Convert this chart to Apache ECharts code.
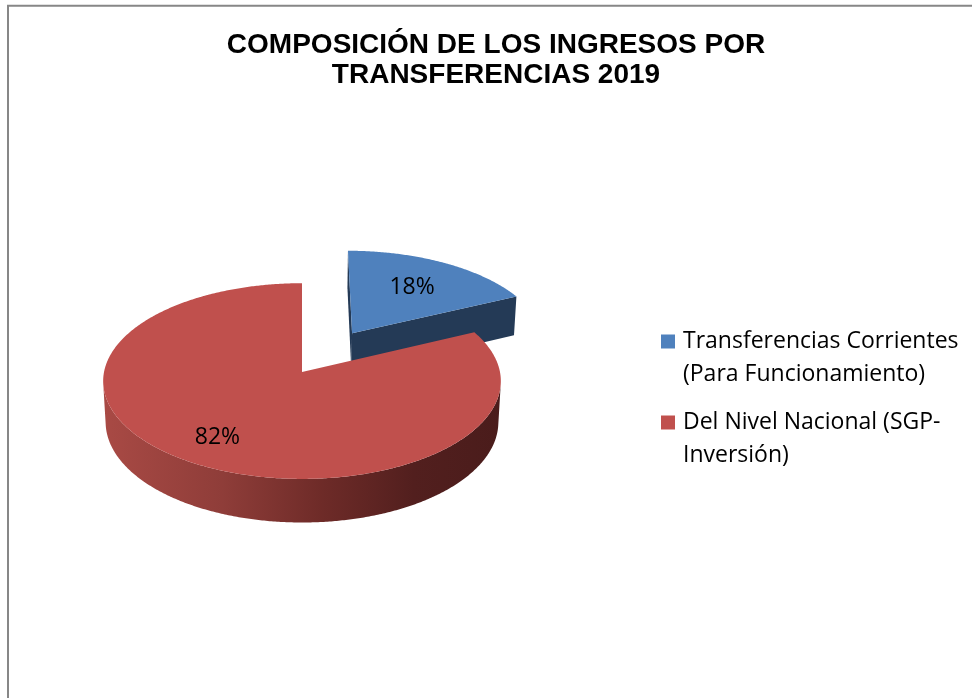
<!DOCTYPE html>
<html><head><meta charset="utf-8">
<script src="https://cdn.jsdelivr.net/npm/echarts@6/dist/echarts.min.js"></script>
<style>html,body{margin:0;padding:0;background:#fff}#c{width:972px;height:698px}</style>
</head><body><div id="c"></div>
<script>
// ---- data ----
const titleText = 'COMPOSICIÓN DE LOS INGRESOS POR\nTRANSFERENCIAS 2019';
const categories = ['Transferencias Corrientes\n(Para Funcionamiento)', 'Del Nivel Nacional (SGP-\nInversión)'];
const values = [18, 82];
// ---- style ----
const topColors = ['#4f81bd', '#c0504d'];
const sideColors = ['#243a56', null];
const explode = [0.49, 0];
const labelRadius = [0.64, 0.75];
const total = values.reduce((a, b) => a + b, 0);
const V = { cx: 302, cy: 372, F: 1861, D: 9.4, sa: 0.49, depth: 0.24 };
V.ca = Math.sqrt(1 - V.sa * V.sa);
const cam = [0, -V.D * V.ca, V.D * V.sa]; // X, Zb, h

function proj(X, Z, h) {
  const v = Z * V.sa + h * V.ca;
  const w = V.D + Z * V.ca - h * V.sa;
  return [V.cx + V.F * X / w, V.cy - V.F * v / w];
}
const rad = d => d * Math.PI / 180;

function makeRender(idx) {
  return function (params, api) {
    const val = api.value(0);
    let before = 0;
    for (let i = 0; i < idx; i++) before += values[i];
    const t0 = before / total * 360, t1 = (before + val) / total * 360;
    const tm = (t0 + t1) / 2;
    const ox = explode[idx] * Math.sin(rad(tm)), oz = explode[idx] * Math.cos(rad(tm));
    const H = -V.depth;
    const rim = (t, h) => proj(ox + Math.sin(rad(t)), oz + Math.cos(rad(t)), h);
    const steps = Math.max(2, Math.ceil((t1 - t0) / 0.5));
    const angs = [];
    for (let s = 0; s <= steps; s++) angs.push(t0 + (t1 - t0) * s / steps);
    const children = [];
    const sideFill = sideColors[idx] || new echarts.graphic.LinearGradient(
      V.cx - 200, 0, V.cx + 200, 0, [
        { offset: 0, color: '#a94a45' }, { offset: 0.3, color: '#8f3d39' },
        { offset: 0.55, color: '#6e2b28' }, { offset: 0.78, color: '#521f1e' },
        { offset: 1, color: '#4a1c1b' }], true);
    // radial faces
    const radial = (t, sign) => {
      const nx = sign * Math.cos(rad(t)), nz = -sign * Math.sin(rad(t));
      const dot = nx * (cam[0] - ox) + nz * (cam[1] - oz);
      if (dot > 1e-6) {
        children.push({ type: 'polygon', shape: { points: [proj(ox, oz, 0), rim(t, 0), rim(t, H), proj(ox, oz, H)] },
          style: { fill: sideFill } });
      }
    };
    radial(t0, -1);
    radial(t1, 1);
    // outer wall
    const vis = [];
    for (let s = 0; s < angs.length - 1; s++) {
      const m = (angs[s] + angs[s + 1]) / 2;
      const nx = Math.sin(rad(m)), nz = Math.cos(rad(m));
      const dot = nx * (cam[0] - ox - nx) + nz * (cam[1] - oz - nz);
      if (dot > 0) { if (!vis.length || vis[vis.length - 1] !== angs[s]) vis.push(angs[s]); vis.push(angs[s + 1]); }
    }
    if (vis.length > 1) {
      const pts = vis.map(t => rim(t, 0)).concat(vis.slice().reverse().map(t => rim(t, H)));
      children.push({ type: 'polygon', shape: { points: pts }, style: { fill: sideFill } });
    }
    // top face
    const topPts = [proj(ox, oz, 0)].concat(angs.map(t => rim(t, 0)));
    children.push({ type: 'polygon', shape: { points: topPts }, style: { fill: topColors[idx] } });
    // label
    const lr = labelRadius[idx];
    const lp = proj(ox + lr * Math.sin(rad(tm)), oz + lr * Math.cos(rad(tm)), 0);
    children.push({ type: 'text', x: lp[0], y: lp[1], style: {
      text: Math.round(val / total * 100) + '%', fill: '#000', fontSize: 23, fontFamily: 'Open Sans',
      align: 'center', verticalAlign: 'middle' } });
    return { type: 'group', children };
  };
}

const chart = echarts.init(document.getElementById('c'));
const legendBase = (i, top) => ({
  data: [categories[i]], left: 656, top: top, orient: 'vertical', icon: 'rect',
  itemWidth: 14, itemHeight: 14, selectedMode: false,
  formatter: n => ' \n' + n,
  textStyle: { fontSize: 23, fontFamily: 'Open Sans', color: '#000', lineHeight: 33, padding: [0, 0, 0, 3] }
});
chart.setOption({
  animation: false,
  backgroundColor: '#fff',
  title: {
    text: titleText, left: 496, textAlign: 'center', top: 30, padding: 0,
    textStyle: { fontFamily: 'Liberation Sans', fontWeight: 'bold', fontSize: 28, lineHeight: 30, color: '#000' }
  },
  legend: [legendBase(0, 287), legendBase(1, 368)],
  graphic: [{ type: 'rect', shape: { x: 8, y: 5.7, width: 2000, height: 2000 },
    style: { fill: null, stroke: '#878787', lineWidth: 2 }, silent: true }],
  series: values.map((v, i) => ({
    type: 'custom', name: categories[i], coordinateSystem: 'none',
    itemStyle: { color: topColors[i] },
    renderItem: makeRender(i), data: [[v]]
  }))
});
</script></body></html>
